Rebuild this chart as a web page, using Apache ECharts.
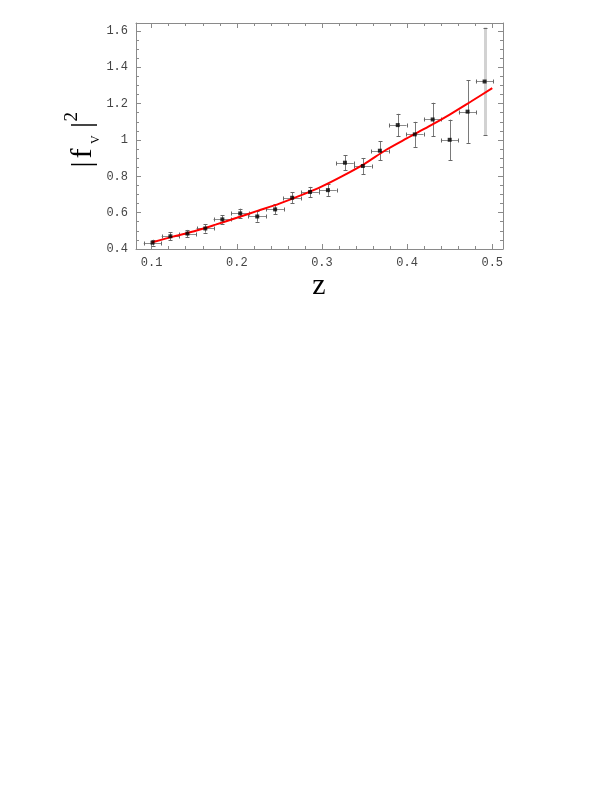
<!DOCTYPE html>
<html>
<head>
<meta charset="utf-8">
<script src="https://cdn.jsdelivr.net/npm/echarts@6/dist/echarts.min.js"></script>
<style>
  * { margin: 0; padding: 0; }
  html, body { width: 100%; height: 100%; background: #fff; }
  #chart { width: 610px; height: 790px; }
</style>
</head>
<body>
<div id="chart"></div>
<script>
// measured points (z, |f_V|^2) with errors
var zVals = [0.101, 0.122, 0.142, 0.163, 0.183, 0.204, 0.224, 0.245, 0.265, 0.286,
             0.307, 0.327, 0.348, 0.368, 0.389, 0.409, 0.430, 0.450, 0.471, 0.491]
var fVals = [0.435, 0.470, 0.485, 0.513, 0.563, 0.596, 0.579, 0.618, 0.682, 0.714,
             0.724, 0.875, 0.857, 0.941, 1.082, 1.031, 1.113, 1.001, 1.156, 1.322]
var fErr = [0.016, 0.022, 0.020, 0.023, 0.024, 0.026, 0.029, 0.027, 0.029, 0.028,
            0.032, 0.042, 0.044, 0.052, 0.062, 0.069, 0.092, 0.111, 0.172, 0.297]
var zErr = [0.0103, 0.0103, 0.0103, 0.0103, 0.0103, 0.0103, 0.0103, 0.0103, 0.0103, 0.0103,
            0.0103, 0.0103, 0.0103, 0.0103, 0.0103, 0.0103, 0.0103, 0.0103, 0.0103, 0.0103]

// fitted curve (red)
var curveZ = [0.10, 0.125, 0.15, 0.175, 0.20, 0.225, 0.25, 0.275, 0.30,
              0.325, 0.35, 0.375, 0.40, 0.425, 0.45, 0.475, 0.50]
var curveF = [0.436, 0.468, 0.498, 0.534, 0.572, 0.611, 0.650, 0.695, 0.745,
              0.804, 0.869, 0.945, 1.010, 1.073, 1.140, 1.212, 1.285]

// ticks
var xMajor = [0.1, 0.2, 0.3, 0.4, 0.5]
var xMinor = [0.12, 0.14, 0.16, 0.18, 0.22, 0.24, 0.26, 0.28, 0.32, 0.34, 0.36, 0.38, 0.42, 0.44, 0.46, 0.48]
var yMajor = [0.4, 0.6, 0.8, 1, 1.2, 1.4, 1.6]
var yMinor = [0.45, 0.5, 0.55, 0.65, 0.7, 0.75, 0.85, 0.9, 0.95, 1.05, 1.1, 1.15,
              1.25, 1.3, 1.35, 1.45, 1.5, 1.55]

var X_MIN = 0.0816, X_MAX = 0.5126, Y_MIN = 0.4, Y_MAX = 1.644
var frameColor = '#8a8a8a'
var monoFont = 'Liberation Mono'
var serif = 'Liberation Serif'

function xAxisDef(pos, ticks, len, showLine, showLabel) {
  return {
    type: 'value', gridIndex: 0, position: pos, min: X_MIN, max: X_MAX,
    axisLine: { show: showLine, onZero: false, lineStyle: { color: frameColor, width: 1 } },
    axisTick: { show: true, inside: true, length: len, customValues: ticks, lineStyle: { color: frameColor } },
    axisLabel: { show: showLabel, customValues: ticks, margin: 8, color: '#444', fontFamily: monoFont, fontSize: 12 },
    splitLine: { show: false }
  }
}
function yAxisDef(pos, ticks, len, showLine, showLabel) {
  return {
    type: 'value', gridIndex: 0, position: pos, min: Y_MIN, max: Y_MAX,
    axisLine: { show: showLine, onZero: false, lineStyle: { color: frameColor, width: 1 } },
    axisTick: { show: true, inside: true, length: len, customValues: ticks, lineStyle: { color: frameColor } },
    axisLabel: { show: showLabel, customValues: ticks, margin: 8, color: '#444', fontFamily: monoFont, fontSize: 12 },
    splitLine: { show: false }
  }
}

// one rotated piece of the y axis title (reads bottom to top)
function yTitlePart(text, x, y, size) {
  return {
    type: 'text', x: x, y: y, rotation: Math.PI / 2,
    style: { text: text, fontSize: size, fontFamily: serif, fill: '#000',
             align: 'left', verticalAlign: 'middle', textAlign: 'left', textVerticalAlign: 'middle' }
  }
}

var errData = zVals.map(function(z, i) { return [z, fVals[i], zErr[i], fErr[i]] })
var pointData = zVals.map(function(z, i) { return [z, fVals[i]] })
var curveData = curveZ.map(function(z, i) { return [z, curveF[i]] })

var chart = echarts.init(document.getElementById('chart'))
var options = {
  animation: false,
  grid: { left: 136, top: 23, width: 367, height: 226 },
  xAxis: [
    xAxisDef('bottom', xMajor, 5, true, true),
    xAxisDef('bottom', xMinor, 3, false, false),
    xAxisDef('top', xMajor, 5, true, false),
    xAxisDef('top', xMinor, 3, false, false)
  ],
  yAxis: [
    yAxisDef('left', yMajor, 5, true, true),
    yAxisDef('left', yMinor, 3, false, false),
    yAxisDef('right', yMajor, 5, true, false),
    yAxisDef('right', yMinor, 3, false, false)
  ],
  series: [
    {
      type: 'custom',
      xAxisIndex: 0, yAxisIndex: 0,
      data: errData,
      z: 2,
      renderItem: function(params, api) {
        var z = api.value(0), f = api.value(1), ez = api.value(2), ef = api.value(3)
        var c = api.coord([z, f])
        var top = api.coord([z, f + ef])
        var bot = api.coord([z, f - ef])
        var l = api.coord([z - ez, f])
        var r = api.coord([z + ez, f])
        var cx = Math.round(c[0]) + 0.5, cy = Math.round(c[1]) + 0.5
        var last = params.dataIndex === zVals.length - 1
        var vStyle = last ? { stroke: '#d2d2d2', lineWidth: 3 } : { stroke: '#7a7a7a', lineWidth: 1 }
        var hStyle = { stroke: '#8c8c8c', lineWidth: 1 }
        var capStyle = { stroke: '#666', lineWidth: 1 }
        function line(x1, y1, x2, y2, st) {
          return { type: 'line', shape: { x1: x1, y1: y1, x2: x2, y2: y2 }, style: st }
        }
        return {
          type: 'group',
          children: [
            line(cx, top[1], cx, bot[1], vStyle),
            line(cx - 2, Math.round(top[1]) + 0.5, cx + 2, Math.round(top[1]) + 0.5, capStyle),
            line(cx - 2, Math.round(bot[1]) + 0.5, cx + 2, Math.round(bot[1]) + 0.5, capStyle),
            line(l[0], cy, r[0], cy, hStyle),
            line(Math.round(l[0]) + 0.5, cy - 2, Math.round(l[0]) + 0.5, cy + 2, capStyle),
            line(Math.round(r[0]) + 0.5, cy - 2, Math.round(r[0]) + 0.5, cy + 2, capStyle)
          ]
        }
      }
    },
    {
      type: 'line',
      xAxisIndex: 0, yAxisIndex: 0,
      data: curveData,
      smooth: 0.3,
      showSymbol: false,
      z: 3,
      lineStyle: { color: '#ff0000', width: 2 }
    },
    {
      type: 'scatter',
      xAxisIndex: 0, yAxisIndex: 0,
      data: pointData,
      symbol: 'rect',
      symbolSize: 4,
      z: 4,
      itemStyle: { color: '#000' }
    }
  ],
  graphic: [
    {
      type: 'text', x: 319, y: 286,
      style: { text: 'z', fontSize: 30, fontFamily: serif, fill: '#000',
               align: 'center', verticalAlign: 'middle', textAlign: 'center', textVerticalAlign: 'middle' }
    },
    yTitlePart('|', 83.5, 167.5, 30),
    yTitlePart('f', 83.5, 158.5, 30),
    yTitlePart('V', 96, 144, 12),
    yTitlePart('|', 83.5, 128, 30),
    yTitlePart('2', 72.5, 121.5, 19)
  ]
}
chart.setOption(options)
window.addEventListener('resize', () => {
  chart.resize()
}, false)
</script>
</body>
</html>
